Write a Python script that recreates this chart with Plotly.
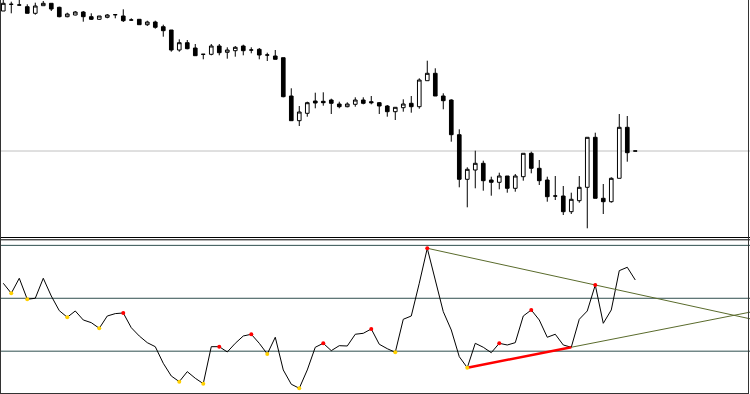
import plotly.graph_objects as go

# ---------------- data (price panel) ----------------
idx = list(range(80))
opens = [229, 235.7, 235, 233.3, 226.7, 234.3, 236.7, 232.7, 223.3, 225,
         228, 223.3, 220.7, 222.7, 225.3, 224, 220, 220.7, 215.3, 218,
         213.3, 210, 190, 197.3, 192, 185.7, 185.7, 194, 187.7, 189.3,
         194, 190, 190.7, 185, 184, 182.3, 144, 119.3, 126.7, 139,
         138.7, 140, 136, 133.3, 135.7, 140, 138.3, 137.3, 134, 128.3,
         132.3, 136.7, 133.3, 159.3, 166.7, 144, 140, 105.3, 60.7, 70,
         76.7, 60, 57.7, 64, 51.7, 63.3, 86.7, 71.7, 60, 44,
         44, 28.3, 39.3, 52.7, 102.7, 41.7, 38.3, 61.7, 112.7, 89]
highs = [242, 238.3, 241, 235.7, 237.3, 239, 236.7, 233.3, 227.3, 229,
         229, 226.7, 224, 226, 226, 230.7, 221.7, 220.7, 219.3, 219.3,
         215.3, 210, 200.7, 200, 196, 186, 196, 196, 192.7, 194,
         195.3, 192.7, 192, 187.3, 190, 182.3, 151.7, 134, 138.3, 147.3,
         147.7, 141.3, 138.3, 137.7, 142.7, 142.7, 144, 138, 135, 133,
         140.7, 144, 161.7, 179.3, 171.7, 146.7, 140.7, 110.7, 72.7, 89.3,
         79.3, 63.3, 67.3, 64, 66, 86.7, 88.3, 80, 63.3, 64,
         54, 47.3, 64, 102.7, 107.3, 56, 62.7, 126, 124, 89]
lows = [229, 226.7, 234.5, 226.7, 225.3, 234.3, 229, 222.7, 222.7, 224.7,
        218.3, 220, 220, 221.7, 221.7, 218, 219.3, 215.3, 214, 211.3,
        203.3, 188.3, 188.3, 190.7, 184, 180.7, 184.7, 184.7, 181.3, 183.3,
        184.7, 186.7, 180.7, 179, 180.7, 142.7, 119.3, 114, 123.3, 131.7,
        134.3, 126, 131.7, 132.7, 133.3, 135.7, 135.7, 126, 123.3, 120,
        128.3, 127.3, 131.3, 159.3, 144, 130.7, 98.3, 52.7, 32.7, 51.7,
        49.3, 44.3, 50.7, 47.3, 48.3, 59.3, 66.7, 55, 38.3, 40,
        25, 26, 37.3, 11.7, 41.7, 26, 37.3, 61.7, 78.3, 89]
closes = [236.7, 235.7, 235, 226.7, 234, 236.7, 231, 223.3, 226, 228,
          223.3, 220.7, 224, 225, 225.3, 219.3, 220, 215.3, 218, 212.7,
          209.3, 190, 197.3, 191.3, 184.3, 185.7, 194, 187.3, 190, 192.7,
          189.3, 190, 185, 185, 180.7, 143.3, 119.3, 128, 137.3, 137,
          137.3, 136.7, 133.3, 136, 140, 136.7, 137.3, 134, 128.3, 132.7,
          136, 133.3, 160, 166.7, 144, 139.3, 105.3, 60.7, 70.7, 76.7,
          59.3, 57.7, 64, 51.7, 64, 86.7, 71.7, 59.3, 43.3, 44,
          28.3, 40.7, 52.7, 102.7, 41.7, 38.3, 61.7, 112.7, 87.3, 89]

# ---------------- data (oscillator panel) ----------------
osc = [28.4, 9.5, 37.8, -1.9, 0, 37.8, 4.3, -23.4, -35.9, -24,
       -41, -46.1, -56.7, -33.5, -29, -27.8, -55.6, -71.3, -83.9, -91.5,
       -122.9, -146.9, -157.6, -138.7, -151.2, -161.4, -91.5, -91.5, -101.5, -85.1,
       -71.3, -68, -85.1, -105.3, -73.7, -135.5, -162.5, -170.1, -135.5, -92.6,
       -85.1, -99, -89.6, -90.2, -68, -66.2, -58, -86.9, -95.3, -102.1,
       -39.7, -33.5, 28.4, 94.5, 34.6, -25.3, -59.9, -110.4, -131.2, -85.1,
       -92.6, -102.8, -85.1, -88.3, -83.9, -33.5, -22.1, -41, -73.7, -68,
       -88.3, -92.6, -39.7, -24, 25.1, -47.3, -22.1, 52.2, 58.6, 34.6]
osc_levels = [100, 0, -100]
peaks = [15, 27, 31, 40, 46, 53, 62, 66, 74]
troughs = [1, 3, 8, 12, 22, 25, 33, 37, 49, 58]
support_pts = [58, 71]      # red support trendline
resist_pts = [53, 74]       # resistance trendline

X_RANGE = [-0.41, 93.34]
Y1_RANGE = [2.5, 240]
Y2_RANGE = [-180, 111.1]
H = 394.0

fig = go.Figure()

fig.add_trace(go.Candlestick(
    x=idx, open=opens, high=highs, low=lows, close=closes,
    increasing=dict(line=dict(color="black", width=1), fillcolor="white"),
    decreasing=dict(line=dict(color="black", width=1), fillcolor="black"),
    whiskerwidth=0, xaxis="x", yaxis="y", showlegend=False, hoverinfo="skip"))

fig.add_trace(go.Scatter(x=idx, y=osc, mode="lines",
                         line=dict(color="black", width=1),
                         xaxis="x2", yaxis="y2", showlegend=False, hoverinfo="skip"))

# trendlines
a, b = support_pts
slope = (osc[b] - osc[a]) / (b - a)
fig.add_trace(go.Scatter(x=[b, X_RANGE[1]], y=[osc[b], osc[b] + slope * (X_RANGE[1] - b)],
                         mode="lines", line=dict(color="#5a6b2c", width=1),
                         xaxis="x2", yaxis="y2", showlegend=False, hoverinfo="skip"))
a2, b2 = resist_pts
slope2 = (osc[b2] - osc[a2]) / (b2 - a2)
fig.add_trace(go.Scatter(x=[a2, X_RANGE[1]], y=[osc[a2], osc[a2] + slope2 * (X_RANGE[1] - a2)],
                         mode="lines", line=dict(color="#5a6b2c", width=1),
                         xaxis="x2", yaxis="y2", showlegend=False, hoverinfo="skip"))
fig.add_trace(go.Scatter(x=[a, b], y=[osc[a], osc[b]], mode="lines",
                         line=dict(color="#ff0000", width=2.5),
                         xaxis="x2", yaxis="y2", showlegend=False, hoverinfo="skip"))

fig.add_trace(go.Scatter(x=troughs, y=[osc[i] for i in troughs], mode="markers",
                         marker=dict(color="#ffd000", size=4, line=dict(width=0)),
                         xaxis="x2", yaxis="y2", showlegend=False, hoverinfo="skip"))
fig.add_trace(go.Scatter(x=peaks, y=[osc[i] for i in peaks], mode="markers",
                         marker=dict(color="#ff0000", size=4, line=dict(width=0)),
                         xaxis="x2", yaxis="y2", showlegend=False, hoverinfo="skip"))

shapes = []
# current price line
shapes.append(dict(type="line", xref="paper", yref="y", x0=0, x1=1,
                   y0=closes[-1], y1=closes[-1], line=dict(color="#c0c0c0", width=1), layer="below"))
# oscillator levels
for lv in osc_levels:
    shapes.append(dict(type="line", xref="paper", yref="y2", x0=0, x1=1,
                       y0=lv, y1=lv, line=dict(color="#2f4f4f", width=1), layer="below"))
# panel separators
for py in (237.5, 239.8):
    shapes.append(dict(type="line", xref="paper", yref="paper", x0=0, x1=1,
                       y0=1 - py / H, y1=1 - py / H, line=dict(color="black", width=1)))
# frame
shapes.append(dict(type="line", xref="paper", yref="paper", x0=0.5 / 750, x1=0.5 / 750,
                   y0=0, y1=1, line=dict(color="#333333", width=1)))
shapes.append(dict(type="line", xref="paper", yref="paper", x0=748.5 / 750, x1=748.5 / 750,
                   y0=0, y1=1, line=dict(color="#333333", width=1)))
shapes.append(dict(type="line", xref="paper", yref="paper", x0=0, x1=749 / 750,
                   y0=1 - 393.5 / H, y1=1 - 393.5 / H, line=dict(color="#333333", width=1)))

ax = dict(visible=False, showgrid=False, zeroline=False, fixedrange=True)
fig.update_layout(
    width=750, height=394, margin=dict(l=0, r=0, t=0, b=0),
    paper_bgcolor="white", plot_bgcolor="white", showlegend=False,
    boxgap=0.35,
    xaxis=dict(ax, domain=[0, 1], range=X_RANGE, anchor="y", rangeslider=dict(visible=False)),
    yaxis=dict(ax, domain=[1 - 237.5 / H, 1], range=Y1_RANGE, anchor="x"),
    xaxis2=dict(ax, domain=[0, 1], range=X_RANGE, anchor="y2"),
    yaxis2=dict(ax, domain=[1 - 393.5 / H, 1 - 239.5 / H], range=Y2_RANGE, anchor="x2"),
    shapes=shapes,
)

fig.write_html("out.html", config={"displayModeBar": False},
               post_script="document.body.style.margin='0';document.body.style.overflow='hidden';")
